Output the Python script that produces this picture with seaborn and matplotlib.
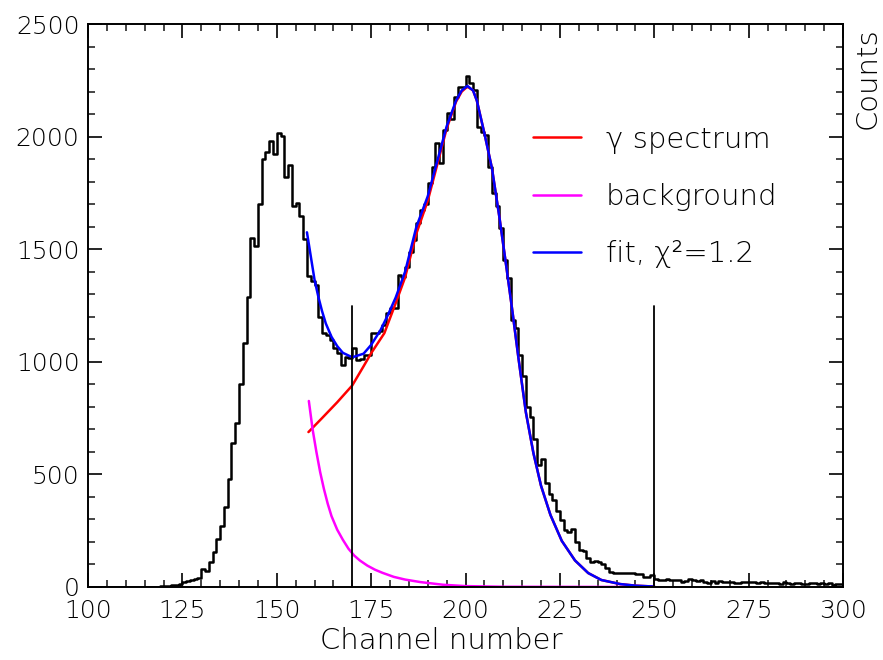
import numpy as np
import pandas as pd
import matplotlib
matplotlib.use("Agg")
import matplotlib.pyplot as plt
import seaborn as sns

# ---------------- data ----------------
first_channel = 100
counts = [
    0, 0, 0, 0, 0, 0, 0, 0, 0, 0, 0, 0, 0, 0, 0, 0, 1, 1, 2, 3,            # 100-119
    5, 6, 8, 11, 15, 20, 25, 30, 35, 40,                                    # 120-129
    78, 72, 111, 157, 212, 271, 357, 481, 638, 730,                         # 130-139
    901, 1082, 1289, 1548, 1514, 1699, 1899, 1933, 1980, 1921,              # 140-149
    2017, 2003, 1819, 1874, 1692, 1706, 1647, 1544, 1381, 1359,             # 150-159
    1340, 1198, 1126, 1119, 1097, 1060, 1038, 986, 1023, 1016,              # 160-169
    1060, 1008, 1012, 1030, 1030, 1129, 1129, 1135, 1163, 1215,             # 170-179
    1237, 1237, 1385, 1375, 1422, 1489, 1541, 1618, 1674, 1701,             # 180-189
    1796, 1866, 1970, 1881, 2029, 2106, 2077, 2177, 2222, 2222,             # 190-199
    2269, 2239, 2207, 2044, 2022, 2007, 1866, 1748, 1692, 1593,             # 200-209
    1452, 1371, 1185, 1149, 1028, 939, 798, 753, 656, 540,                  # 210-219
    567, 460, 415, 386, 337, 297, 255, 245, 256, 200,                       # 220-229
    165, 160, 128, 112, 117, 112, 100, 85, 68, 64,                          # 230-239
    64, 64, 62, 64, 60, 58, 58, 46, 43, 53,                                 # 240-249
    34, 33, 33, 36, 30, 33, 31, 24, 27, 34,                                 # 250-259
    32, 25, 30, 24, 19, 25, 19, 26, 22, 24,                                 # 260-269
    24, 16, 16, 21, 20, 21, 21, 18, 20, 16,                                 # 270-279
    17, 18, 19, 13, 20, 18, 15, 17, 18, 13,                                 # 280-289
    14, 19, 16, 14, 17, 15, 16, 11, 12, 14,                                 # 290-299
]

# fit curve (blue)
fit_ch = [158, 159, 160, 161, 162, 163, 164.5, 166, 167.5, 170, 173, 175, 177.5,
          179.5, 181.5, 184, 187, 190, 192.5, 195, 197.5, 199, 200.5, 202,
          203, 205, 207, 209, 211, 212.5, 214, 216, 218, 220, 222.5, 225.5,
          229, 232.5, 236, 241, 245, 250]
fit_val = [1575, 1470, 1365, 1290, 1225, 1170, 1111, 1070, 1040, 1020, 1036, 1075, 1141,
           1210, 1285, 1400, 1600, 1735, 1890, 2045, 2160, 2205, 2225, 2205,
           2160, 2015, 1860, 1640, 1400, 1215, 1020, 775, 594, 450, 320, 205,
           118, 62, 31, 13, 6, 2]

# gamma spectrum component (red)
gamma_ch = [158.4, 162, 166, 170, 173, 175, 178.5, 181.5, 184, 187, 190,
            192.5, 195, 197.5, 199, 200.5, 202, 203, 205, 207, 209, 211, 212.5,
            214, 216, 218, 220, 222.5, 225.5, 229, 232.5, 236, 241, 245, 250]
gamma_val = [688, 750, 820, 895, 980, 1038, 1127, 1260, 1375, 1570, 1715,
             1875, 2035, 2155, 2200, 2222, 2205, 2160, 2015, 1860, 1640, 1400,
             1215, 1020, 775, 594, 450, 320, 205, 118, 62, 31, 13, 6, 2]

# background component (magenta)
bkg_ch = [158.5, 159.5, 160.5, 161.5, 162.5, 163.5, 164.5, 166, 167.5, 169,
          170.5, 172, 174, 176, 178, 181, 184, 188, 194, 200, 210, 250]
bkg_val = [826, 700, 600, 510, 435, 370, 315, 255, 210, 170,
           140, 118, 95, 77, 63, 45, 33, 22, 10, 4, 1, 0]

# fit-range markers
marker_ch = [170, 250]
marker_height = 1250

legend_labels = ["γ spectrum", "background", "fit, χ²=1.2"]

# ---------------- plot ----------------
sns.set_style("ticks")
plt.rcParams["font.family"] = ["DejaVu Sans"]
plt.rcParams["font.weight"] = "light"
plt.rcParams["text.color"] = "black"

W, H = 883, 660
fig = plt.figure(figsize=(W / 100, H / 100), dpi=100)
ax = fig.add_axes([88 / W, 1 - 587 / H, (843 - 88) / W, (587 - 24) / H])

channels = np.arange(first_channel, first_channel + len(counts))
hist_df = pd.DataFrame({"channel": channels + 0.5,
                        "counts": np.asarray(counts, dtype=float)})
sns.histplot(data=hist_df, x="channel", weights="counts",
             binwidth=1, binrange=(first_channel, first_channel + len(counts)),
             element="step", fill=False, color="black", linewidth=1.8, ax=ax)

sns.lineplot(x=gamma_ch, y=gamma_val, color="#ff0000", linewidth=1.8, ax=ax,
             label=legend_labels[0], sort=False)
sns.lineplot(x=bkg_ch, y=bkg_val, color="#ff00ff", linewidth=1.8, ax=ax,
             label=legend_labels[1], sort=False)
sns.lineplot(x=fit_ch, y=fit_val, color="#0000ff", linewidth=1.8, ax=ax,
             label=legend_labels[2], sort=False)

for mc in marker_ch:
    ax.plot([mc, mc], [0, marker_height], color="black", linewidth=1.3)

ax.set_xlim(100, 300)
ax.set_ylim(0, 2500)
ax.set_xticks(np.arange(100, 301, 25))
ax.set_xticks(np.arange(100, 301, 5), minor=True)
ax.set_yticks(np.arange(0, 2501, 500))
ax.set_yticks(np.arange(0, 2501, 100), minor=True)
ax.tick_params(axis="both", which="major", direction="in", length=10, width=1.2,
               labelsize=18, colors="black")
ax.tick_params(axis="both", which="minor", direction="in", length=5, width=1.2)
ax.tick_params(axis="y", which="both", left=True, right=True, pad=6)
ax.tick_params(axis="x", which="both", bottom=True, top=True, pad=9)
for s in ax.spines.values():
    s.set_linewidth(1.4)
    s.set_color("black")
ax.set_xlabel("")
ax.set_ylabel("")

fig.text(441 / W, 1 - 641 / H, "Channel number", ha="center", va="center",
         fontsize=21, color="black")
fig.text(868 / W, 1 - 27 / H, "Counts", ha="center", va="top",
         rotation=90, fontsize=21, color="black")

leg = ax.legend(loc="upper left", bbox_to_anchor=((530 - 88) / (843 - 88) - 0.012,
                                                  1 - (114 - 24) / (587 - 24)),
                frameon=False, fontsize=21, handlelength=1.65,
                handletextpad=0.85, labelspacing=1.0, borderaxespad=0)
for t in leg.get_texts():
    t.set_color("black")

fig.savefig("out.png", dpi=100)
